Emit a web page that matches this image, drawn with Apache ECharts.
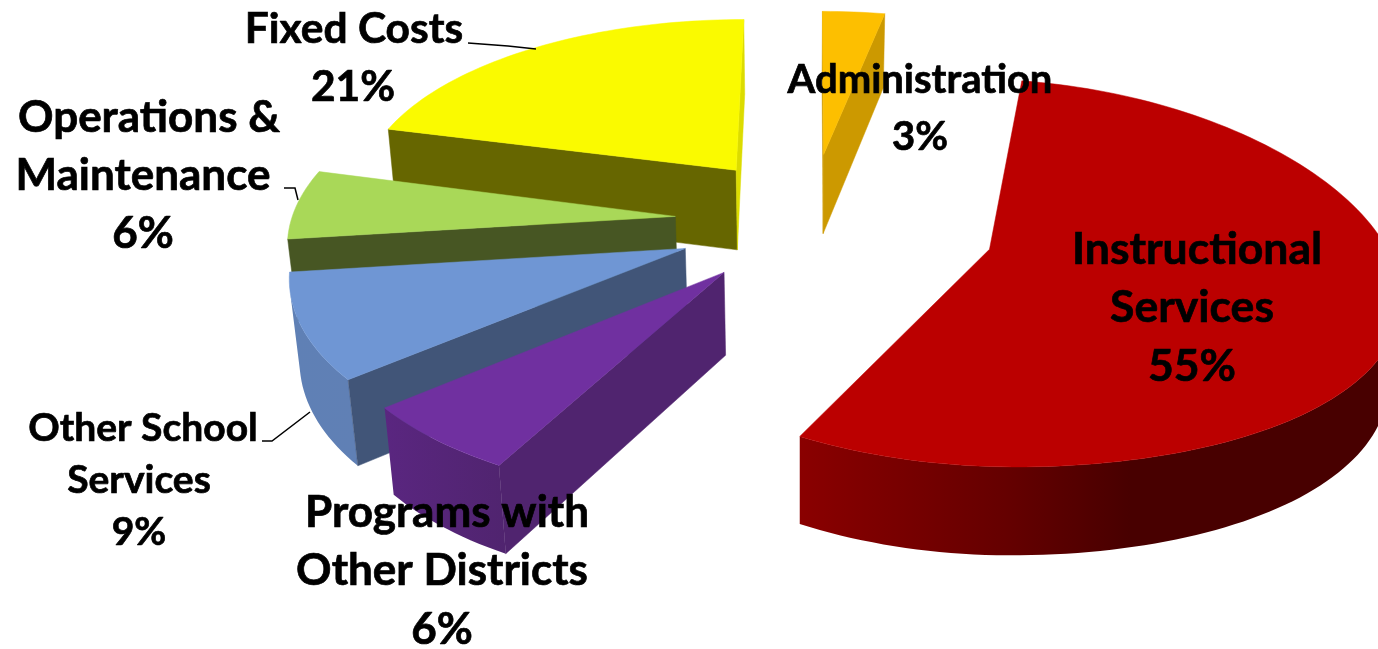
<!DOCTYPE html>
<html><head><meta charset="utf-8">
<style>html,body{margin:0;padding:0;background:#fff;overflow:hidden}#c{width:1378px;height:649px}</style>
<script src="https://cdn.jsdelivr.net/npm/echarts@6/dist/echarts.min.js"></script>
</head><body><div id="c"></div>
<script>
// ---- data ----
const categories = ["Instructional Services","Programs with Other Districts","Other School Services","Operations & Maintenance","Fixed Costs","Administration"];
const values = [55,6,9,6,21,3];
const labelLines = [["Instructional","Services"],["Programs with","Other Districts"],["Other School","Services"],["Operations &","Maintenance"],["Fixed Costs"],["Administration"]];

// ---- styling / layout ----
const topColors   = ["#bb0000","#7030a0","#6f96d4","#a9d858","#fafa00","#fdbf00"];
const startWalls  = ["#6a0000","#50246f","#415578","#475623","#666600","#cc9900"];
const endWalls    = ["#6a0000","#50246f","#415578","#475623","#dcdc00","#cc9900"];
const arcStops    = [
  [[0,"#8a0000"],[0.35,"#640000"],[0.55,"#480000"],[1,"#480000"]],
  [[0,"#5a2680"],[1,"#50246f"]],
  [[0,"#5f80b5"],[1,"#6080b5"]],
  [[0,"#475623"],[1,"#475623"]],
  [[0,"#dcdc00"],[1,"#dcdc00"]],
  [[0,"#cc9900"],[1,"#cc9900"]]
];
const explode   = [0.51,0.33,0.33,0.32,0.38,0.35];
const nudgeX    = [0.005,0.02,0.01,-0.006,0.06,0.03];
const nudgeZ    = [-0.04,0,0,-0.02,0,-0.045];
const rimStretch= [1.02,1,1,1,1,1];
const rimDepth  = [1,1,1,1,0.973,0.94];
const rimSag    = [0.08,0,0,0,0,0];
const rimStartShift = [-2.5,0,0,0,0,0];
const paintOrder= [5,4,3,2,1,0];
const firstAngle = 11;
const view = {cx:800,cy:224,rx:385,ry:185,p:0.12,h:83,q:0.02};
const labelFont = [44.5,44,39,44,42.5,40];
const labelPos = [
  [[1197,250],[1192,308],[1192,367]],
  [[447,513],[442,571],[442,630]],
  [[143,428],[139,480],[139,532]],
  [[149,118],[143,176],[143,234]],
  [[354,29],[353,87]],
  [[920,80],[920,137]]
];
const leaders = [
  [[468,43],[508,46],[536,49]],
  [[262,441],[272,441],[310,412]],
  [[284,188],[295,188],[298,200]]
];

function project(X,Z,d){
  const w = 1 - view.p*Z + view.q*d;
  return [view.cx + view.rx*X/w, view.cy + (view.ry*Z + view.h*d)/w];
}
function area(q){let s=0;for(let i=0;i<q.length;i++){const a=q[i],b=q[(i+1)%q.length];s+=a[0]*b[1]-b[0]*a[1];}return s/2;}
const total = values.reduce((a,b)=>a+b,0);

function renderSlice(params,api){
  const value = api.value(0), idx = api.value(1);
  let before = 0; for(let k=0;k<idx;k++) before += values[k];
  const a0 = firstAngle + before/total*360, a1 = a0 + value/total*360;
  const mid = (a0+a1)/2*Math.PI/180;
  const ox = explode[idx]*Math.sin(mid)+nudgeX[idx], oz = -explode[idx]*Math.cos(mid)+nudgeZ[idx];
  const rim = [], n = Math.max(6,Math.ceil((a1-a0)/1.5));
  const aStart = a0 + rimStartShift[idx];
  for(let k=0;k<=n;k++){
    const t=(aStart+(a1-aStart)*k/n)*Math.PI/180;
    const u=Math.sin(t), v=-Math.cos(t);
    rim.push([ox+(u>0?rimStretch[idx]:1)*u, oz+rimDepth[idx]*v+(u>0?rimSag[idx]*u*u:0)]);
  }
  const P = (c,d)=>project(c[0],c[1],d);
  const apex=[ox,oz];
  const children=[];
  const poly=(pts,fill)=>children.push({type:'polygon',shape:{points:pts},style:{fill:fill,stroke:typeof fill==='string'?fill:null,lineWidth:typeof fill==='string'?0.5:0}});
  // outer wall, only the run of segments facing the viewer
  let first=-1,last=-1;
  for(let k=0;k<n;k++){
    const q=[P(rim[k],0),P(rim[k+1],0),P(rim[k+1],1),P(rim[k],1)];
    if(area(q)<0){ if(first<0) first=k; last=k; }
  }
  if(first>=0){
    const up=[],down=[];
    for(let k=first;k<=last+1;k++){up.push(P(rim[k],0));down.unshift(P(rim[k],1));}
    const stops=arcStops[idx].map(s=>({offset:s[0],color:s[1]}));
    poly(up.concat(down),new echarts.graphic.LinearGradient(0,0,1,0,stops));
  }
  // radial walls facing the viewer
  const w1=[P(apex,0),P(rim[0],0),P(rim[0],1),P(apex,1)];
  if(area(w1)<0) poly(w1,startWalls[idx]);
  const w2=[P(rim[n],0),P(apex,0),P(apex,1),P(rim[n],1)];
  if(area(w2)<0) poly(w2,endWalls[idx]);
  // top face
  poly([P(apex,0)].concat(rim.map(c=>P(c,0))),topColors[idx]);
  return {type:'group',children:children};
}

const font = "Lato, 'Noto Sans', sans-serif";
const graphics = [];
leaders.forEach(l=>graphics.push({type:'polyline',z:50,shape:{points:l},style:{stroke:'#000',lineWidth:1.5,fill:null}}));
values.forEach((v,i)=>{
  const lines = labelLines[i].concat([v+'%']);
  lines.forEach((t,j)=>graphics.push({type:'text',z:60,x:labelPos[i][j][0],y:labelPos[i][j][1],
    style:{text:t,fill:'#000',stroke:'#000',lineWidth:0.7,font:'bold '+labelFont[i]+'px '+font,align:'center',verticalAlign:'middle'}}));
});

const chart = echarts.init(document.getElementById('c'),null,{renderer:'canvas'});
chart.setOption({
  animation:false,
  backgroundColor:'#fff',
  series:[{type:'custom',coordinateSystem:'none',renderItem:renderSlice,silent:true,clip:false,
    dimensions:['value','index'],
    data:paintOrder.map(i=>({name:categories[i],value:[values[i],i]}))}],
  graphic:graphics
});
</script></body></html>
